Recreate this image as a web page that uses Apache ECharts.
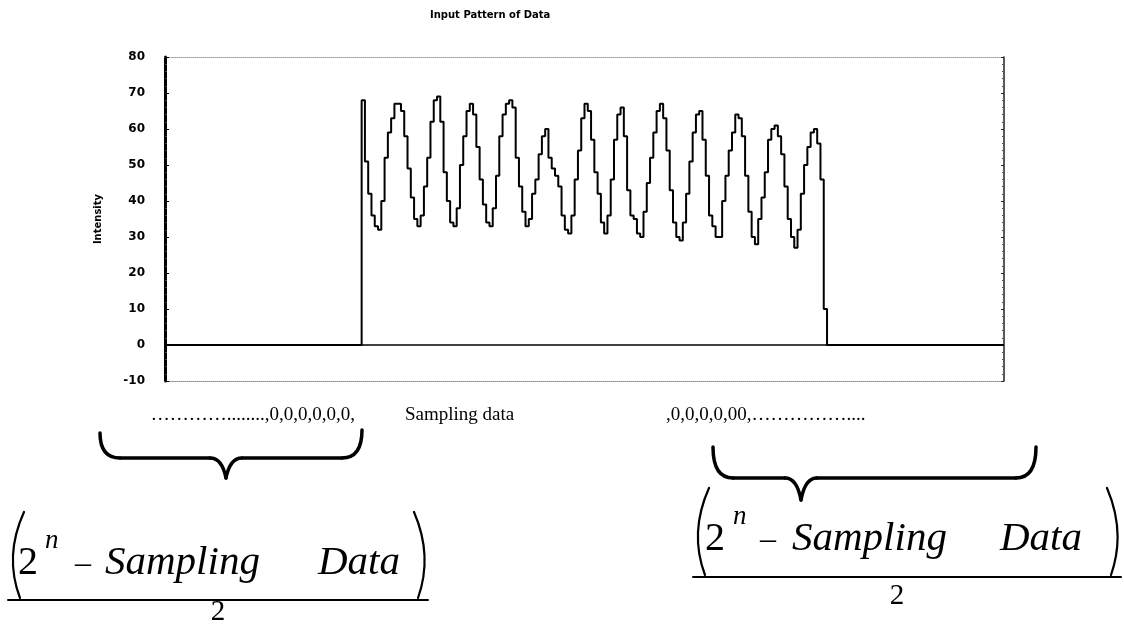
<!DOCTYPE html>
<html>
<head>
<meta charset="utf-8">
<title>Input Pattern of Data</title>
<script src="https://cdn.jsdelivr.net/npm/echarts@6/dist/echarts.min.js"></script>
<style>
  html, body { margin: 0; padding: 0; background: #fff; }
  #chart { width: 1124px; height: 624px; }
</style>
</head>
<body>
<div id="chart"></div>
<script>
// Record length (a power of two) and the position of the sampled block inside it
const sampleCount = 256;
const signalStart = 60;

// Sampled intensity values, one per sample from signalStart on
const signalValues = [
  68, 51, 42, 36, 33, 32, 40, 52, 59, 63, 67, 67, 65, 58, 49, 41, 35, 33,
  36, 44, 52, 62, 68, 69, 62, 48, 40, 34, 33,
  38, 50, 58, 65, 67, 64, 55, 46, 39, 34, 33,
  38, 47, 58, 64, 67, 68, 66, 52, 44, 37, 33,
  35, 42, 46, 53, 58, 60, 52, 49, 47, 44, 36, 32,
  31, 36, 46, 54, 63, 67, 65, 57, 48, 42, 34, 31,
  36, 46, 57, 64, 66, 58, 43, 36, 35, 31, 30,
  37, 45, 52, 59, 65, 67, 63, 54, 43, 34, 30, 29,
  34, 42, 51, 59, 64, 65, 57, 47, 36, 33, 30, 30,
  40, 47, 54, 59, 64, 63, 58, 47, 37, 30, 28,
  35, 41, 48, 57, 60, 61, 58, 53, 44, 35, 30, 27,
  32, 42, 50, 55, 59, 60, 56, 46, 10
];

// Intensity axis range and tick step
const yMin = -10;
const yMax = 80;
const yStep = 10;

// Zero padding on both sides of the sampled block
const signalEnd = signalStart + signalValues.length;
const seriesData = [[0, 0]]
  .concat(signalValues.map((v, k) => [signalStart + k, v]))
  .concat([[signalEnd, 0], [sampleCount, 0]]);

const serif = '"Liberation Serif", "DejaVu Serif", serif';
const ink = '#000';

// Stroke helpers for the braces, parentheses and fraction bars
function curve(x1, y1, cx, cy, x2, y2, w) {
  return {
    type: 'bezierCurve', silent: true,
    shape: { x1: x1, y1: y1, cpx1: cx, cpy1: cy, x2: x2, y2: y2 },
    style: { fill: null, stroke: ink, lineWidth: w, lineCap: 'round' }
  };
}
function segment(x1, y1, x2, y2, w) {
  return {
    type: 'line', silent: true,
    shape: { x1: x1, y1: y1, x2: x2, y2: y2 },
    style: { stroke: ink, lineWidth: w, lineCap: 'round' }
  };
}
function label(text, x, y, size, opts) {
  opts = opts || {};
  return {
    type: 'text', x: x, y: y, silent: true,
    style: {
      text: text, fill: ink,
      font: (opts.italic ? 'italic ' : '') + size + 'px ' + (opts.family || serif),
      align: opts.align || 'left', verticalAlign: 'middle'
    }
  };
}
// Horizontal curly brace: ends at (xa, ya) and (xb, yb), bar at yBar, tip at (xt, yTip)
function brace(xa, ya, xb, yb, yBar, xt, yTip) {
  const r = 20, w = 3.5;
  return [
    curve(xa, ya, xa, yBar, xa + r, yBar, w),
    segment(xa + r, yBar, xt - r + 4, yBar, w),
    curve(xt - r + 4, yBar, xt - 4, yBar, xt, yTip, w),
    curve(xt, yTip, xt + 4, yBar, xt + r - 4, yBar, w),
    segment(xt + r - 4, yBar, xb - r, yBar, w),
    curve(xb - r, yBar, xb, yBar, xb, yb, w)
  ];
}
function fraction(x0, x1, lineY, parenTop, numY, supY, denX, denY, xs) {
  const mid = (parenTop + lineY) / 2;
  return [
    curve(x0 + 16, parenTop, x0 - 4, mid, x0 + 12, lineY - 2, 2.2),
    curve(x1 - 14, parenTop, x1 + 5, mid, x1 - 10, lineY - 2, 2.2),
    segment(x0, lineY, x1, lineY, 2),
    label('2', xs[0], numY, 40),
    label('n', xs[1], supY, 27, { italic: true }),
    label('\u2013', xs[2], numY + 2, 32),
    label('Sampling', xs[3], numY, 41, { italic: true }),
    label('Data', xs[4], numY, 41, { italic: true }),
    label('2', denX, denY, 29, { align: 'center' })
  ];
}

const chart = echarts.init(document.getElementById('chart'), null, { renderer: 'canvas' });

const option = {
  backgroundColor: '#fff',
  animation: false,
  title: {
    text: 'Input Pattern of Data',
    left: 425, top: 5,
    textStyle: { fontFamily: '"DejaVu Sans", sans-serif', fontSize: 10, fontWeight: 'bold', color: ink }
  },
  grid: { left: 165, top: 57, width: 839, height: 324, containLabel: false },
  xAxis: [
    {
      type: 'value', min: 0, max: sampleCount, position: 'bottom',
      axisLine: { show: true, onZero: false, lineStyle: { color: '#888', type: 'dotted', width: 1 } },
      axisTick: { show: false }, axisLabel: { show: false }, splitLine: { show: false }
    },
    {
      type: 'value', min: 0, max: sampleCount, position: 'top',
      axisLine: { show: true, onZero: false, lineStyle: { color: '#999', type: 'dotted', width: 1 } },
      axisTick: { show: false }, axisLabel: { show: false }, splitLine: { show: false }
    }
  ],
  yAxis: [
    {
      type: 'value', min: yMin, max: yMax, interval: yStep, position: 'left',
      name: 'Intensity', nameLocation: 'middle', nameGap: 62, nameRotate: 90,
      nameTextStyle: { fontFamily: '"DejaVu Sans", sans-serif', fontSize: 10, fontWeight: 'bold', color: ink },
      axisLine: { show: true, onZero: false, lineStyle: { color: ink, width: 3 } },
      axisTick: { show: true, inside: true, length: 4, lineStyle: { color: ink, width: 1 } },
      minorTick: { show: true, splitNumber: 5, length: 2, lineStyle: { color: '#444', width: 1 } },
      axisLabel: { margin: 20, fontFamily: '"DejaVu Sans", sans-serif', fontSize: 12, fontWeight: 'bold', color: ink },
      splitLine: { show: false }
    },
    {
      type: 'value', min: yMin, max: yMax, interval: yStep, position: 'right',
      axisLine: { show: true, onZero: false, lineStyle: { color: '#222', width: 1.5 } },
      axisTick: { show: true, inside: true, length: 3, lineStyle: { color: '#222', width: 1 } },
      minorTick: { show: true, splitNumber: 5, length: 2, lineStyle: { color: '#555', width: 1 } },
      axisLabel: { show: false }, splitLine: { show: false }
    }
  ],
  series: [
    {
      type: 'line', step: 'end', data: seriesData,
      showSymbol: false, symbol: 'none',
      lineStyle: { color: ink, width: 2 },
      z: 5,
      // baseline at zero running under the sampled block as well
      markLine: {
        silent: true, symbol: 'none', label: { show: false },
        lineStyle: { color: ink, type: 'solid', width: 1.5 },
        data: [{ yAxis: 0 }]
      }
    }
  ],
  graphic: [
    label('\u2026\u2026\u2026\u2026........,0,0,0,0,0,0,', 355, 415, 19, { align: 'right' }),
    label('Sampling data', 405, 415, 19),
    label(',0,0,0,0,00,\u2026\u2026\u2026\u2026\u2026....', 666, 415, 19)
  ]
    .concat(brace(100, 433, 362, 430, 458, 226, 478))
    .concat(brace(713, 447, 1036, 447, 478, 801, 500))
    .concat(fraction(8, 428, 600, 512, 563, 541, 218, 612, [18, 45, 75, 105, 318]))
    .concat(fraction(693, 1121, 577, 488, 539, 517, 897, 596, [705, 733, 760, 792, 1000]))
};

chart.setOption(option);
</script>
</body>
</html>
